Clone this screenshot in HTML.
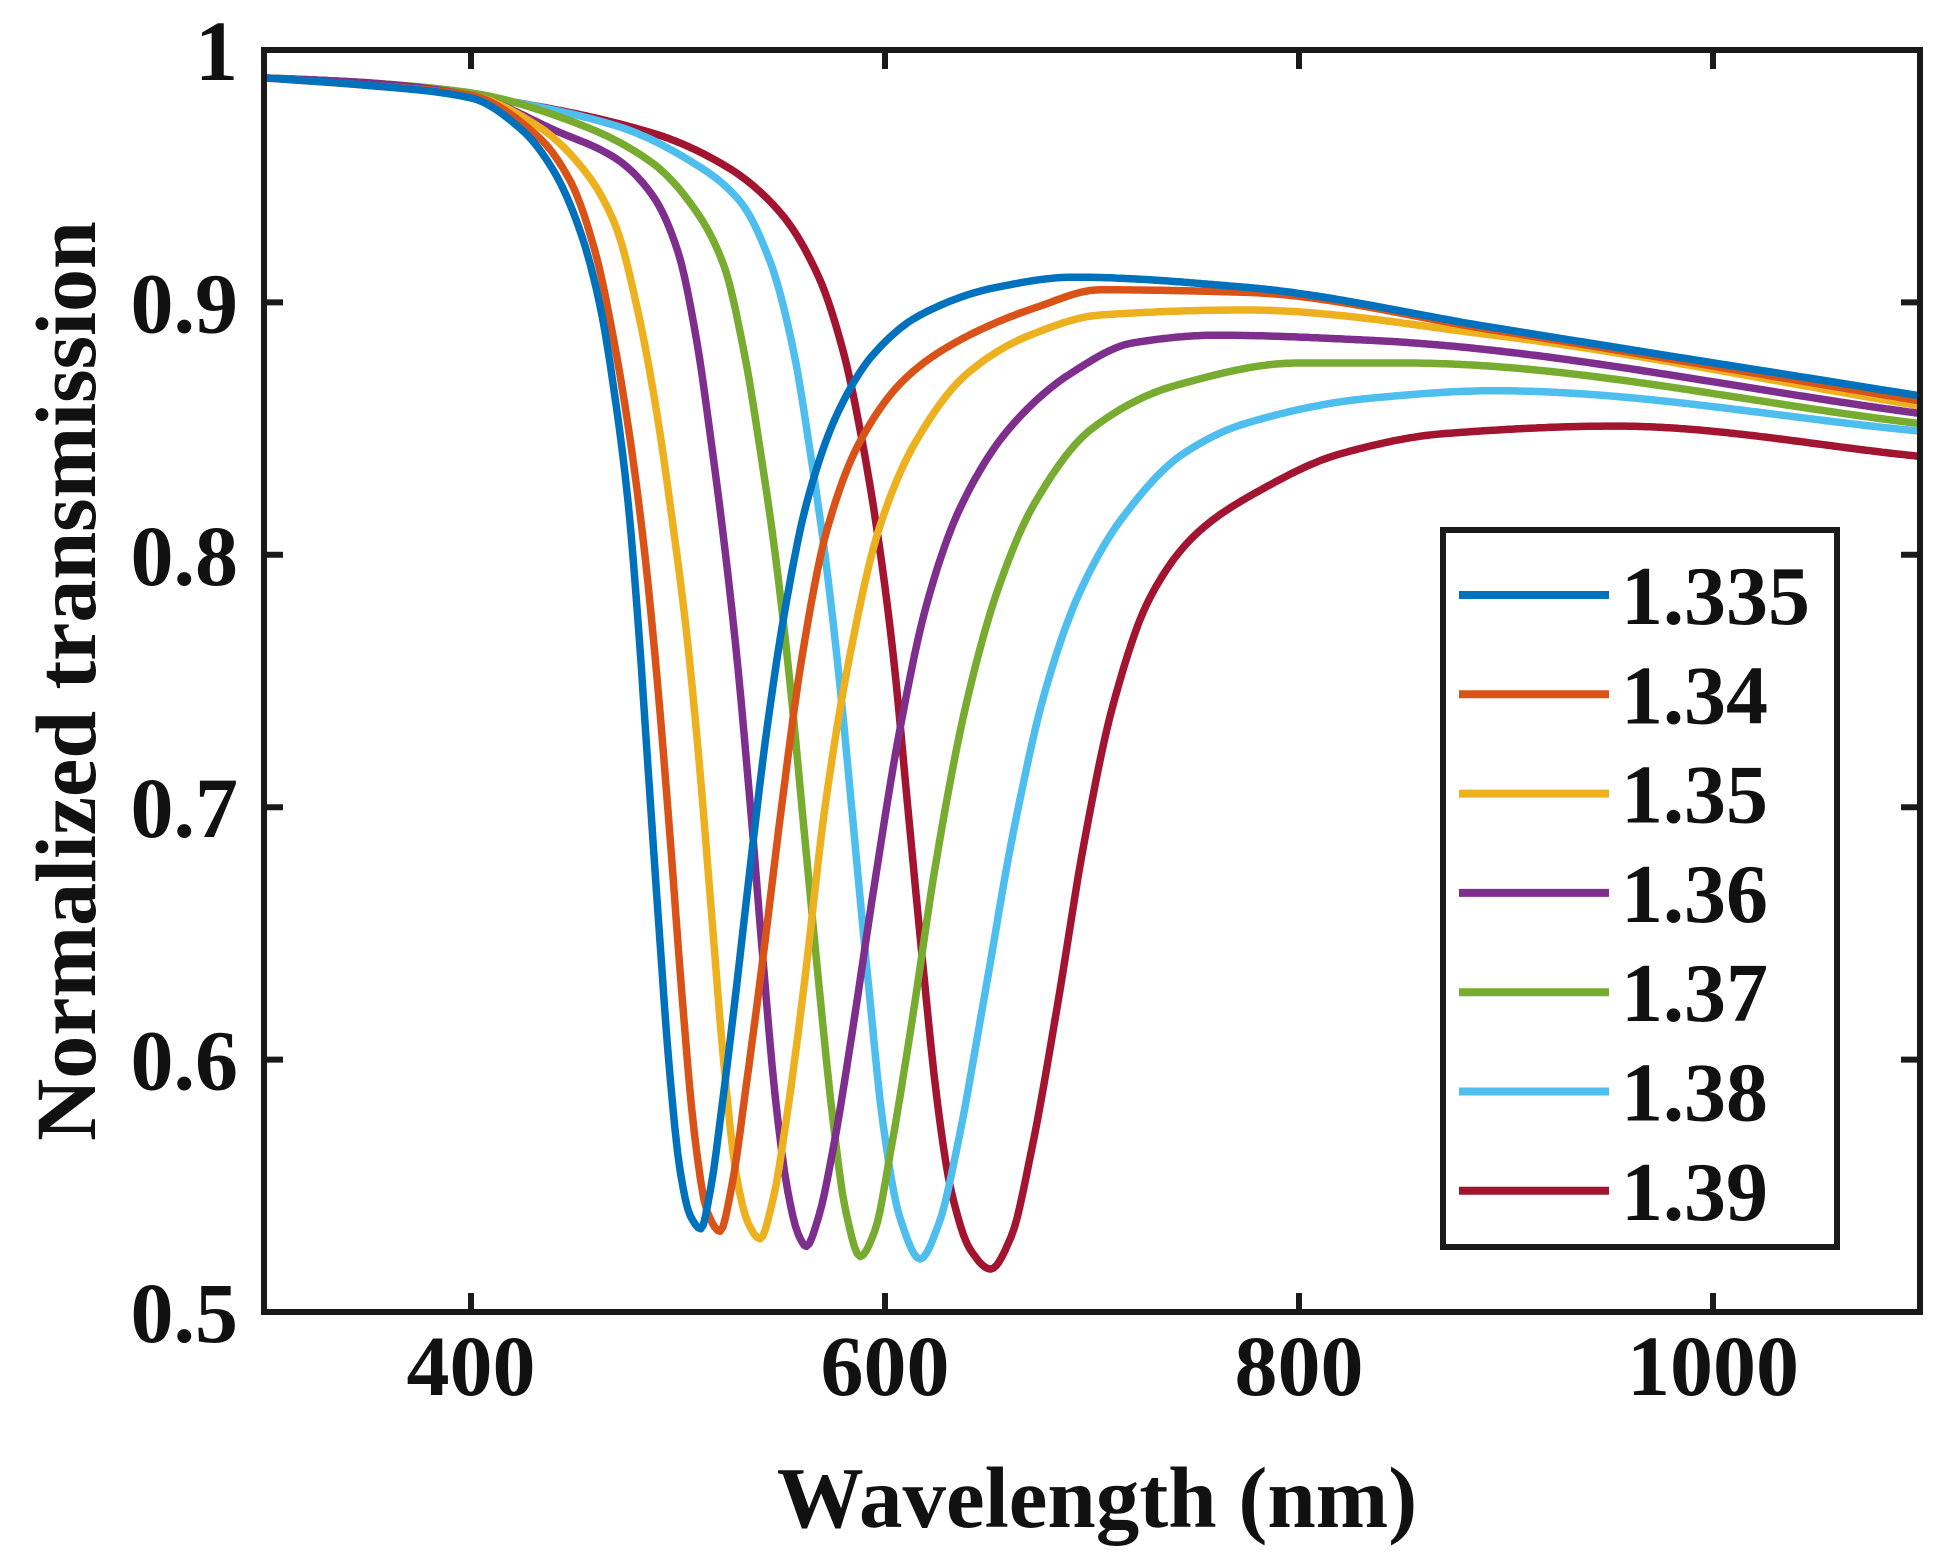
<!DOCTYPE html>
<html>
<head>
<meta charset="utf-8">
<style>
html,body{margin:0;padding:0;background:#fff;}
svg{display:block;}
text{font-family:"Liberation Serif",serif;font-weight:bold;fill:#111;}
</style>
</head>
<body>
<svg id="chart" width="1955" height="1564" viewBox="0 0 1955 1564" xmlns="http://www.w3.org/2000/svg">
  <g id="plot"></g>
  <g id="axes"></g>
  <g id="legend"></g>
</svg>
<script>
const seriesNames = ["1.335","1.34","1.35","1.36","1.37","1.38","1.39"];
const seriesColors = ["#0072BD","#D95319","#EDB120","#7E2F8E","#77AC30","#4DBEEE","#A2142F"];
const xTicks = [400,600,800,1000];
const yTicks = [0.5,0.6,0.7,0.8,0.9,1];
const yTickLabels = ["0.5","0.6","0.7","0.8","0.9","1"];

const x1335 = [300,350,400,425,440,452,462,470,476,481,486,491,496,501,506,511,516,521,527,534,542,551,562,577,595,617,654,691,774,894,1100];
const y1335 = [0.989,0.986,0.981,0.968,0.952,0.93,0.9,0.86,0.82,0.77,0.71,0.65,0.595,0.556,0.538,0.533,0.55,0.58,0.62,0.67,0.725,0.775,0.82,0.856,0.88,0.895,0.906,0.91,0.906,0.89,0.863];
const x134 = [300,350,400,432,448,460,469,477,484,490,496,502,508,514,520.3,526,533,541,550,560,572,588,610,636,673,704,774,894,1100];
const y134 = [0.989,0.986,0.982,0.966,0.948,0.92,0.885,0.845,0.8,0.75,0.69,0.625,0.57,0.54,0.532,0.55,0.59,0.64,0.7,0.76,0.81,0.845,0.87,0.885,0.898,0.905,0.904,0.889,0.861];
const x135 = [300,350,400,432,455,470,481,490,497,504,510,516,522,528,534,539.6,546,553,561,571,583,597,615,640,670,704,774,894,1100];
const y135 = [0.989,0.986,0.982,0.97,0.952,0.93,0.895,0.855,0.815,0.77,0.72,0.66,0.6,0.555,0.535,0.529,0.545,0.58,0.63,0.7,0.76,0.81,0.845,0.872,0.887,0.895,0.897,0.887,0.859];
const x136 = [300,350,400,441,470,488,500,509,516,523,529,535,541,547,553,558,562,568,575,584,595,607,620,636,660,690,720,760,834,1100];
const y136 = [0.989,0.987,0.982,0.968,0.957,0.942,0.92,0.885,0.845,0.8,0.755,0.7,0.64,0.585,0.548,0.531,0.526,0.538,0.565,0.61,0.67,0.73,0.78,0.818,0.85,0.872,0.884,0.887,0.885,0.856];
const x137 = [300,350,400,451,488,508,522,532,540,547,554,561,568,575,581,588,595,603,613,625,639,654,672,700,740,800,850,1100];
const y137 = [0.989,0.987,0.983,0.971,0.955,0.937,0.915,0.88,0.84,0.8,0.75,0.69,0.63,0.575,0.54,0.522,0.532,0.565,0.615,0.68,0.74,0.785,0.82,0.85,0.867,0.876,0.876,0.852];
const x138 = [300,350,400,470,506,530,545,556,564,571,578,585,592,599,607,617,626,636,648,662,677,694,715,744,774,834,894,1100];
const y138 = [0.989,0.987,0.982,0.97,0.956,0.94,0.915,0.88,0.84,0.8,0.75,0.69,0.63,0.575,0.538,0.521,0.535,0.57,0.625,0.69,0.745,0.785,0.815,0.84,0.852,0.862,0.865,0.849];
const x139 = [300,350,400,488,525,550,568,580,589,597,604,611,618,625,632,641,651,661,671,683,696,710,728,750,780,820,870,953,1100];
const y139 = [0.989,0.987,0.982,0.967,0.953,0.935,0.91,0.88,0.845,0.805,0.76,0.7,0.64,0.585,0.548,0.525,0.517,0.53,0.565,0.62,0.685,0.74,0.783,0.808,0.825,0.84,0.848,0.851,0.839];

const seriesX = [x1335,x134,x135,x136,x137,x138,x139];
const seriesY = [y1335,y134,y135,y136,y137,y138,y139];

const L=264,R=1920,T=50,B=1312;
const xMin=300,xMax=1100,yMin=0.5,yMax=1;
function sx(v){return L+(v-xMin)/(xMax-xMin)*(R-L);}
function sy(v){return B-(v-yMin)/(yMax-yMin)*(B-T);}
const NS="http://www.w3.org/2000/svg";
function mk(tag,parent){const e=document.createElementNS(NS,tag);parent.appendChild(e);return e;}

// monotone cubic interpolation (Fritsch-Carlson), sampled densely
function monoPath(xs,ys){
  const n=xs.length,d=[],m=new Array(n);
  for(let i=0;i<n-1;i++)d.push((ys[i+1]-ys[i])/(xs[i+1]-xs[i]));
  m[0]=d[0];m[n-1]=d[n-2];
  for(let i=1;i<n-1;i++){
    if(d[i-1]*d[i]<=0)m[i]=0;
    else{const w1=2*(xs[i+1]-xs[i])+(xs[i]-xs[i-1]),w2=(xs[i+1]-xs[i])+2*(xs[i]-xs[i-1]);m[i]=(w1+w2)/(w1/d[i-1]+w2/d[i]);}
  }
  let pts=[];
  for(let i=0;i<n-1;i++){
    const h=xs[i+1]-xs[i],steps=Math.max(4,Math.ceil(h/1.5));
    for(let k=0;k<steps;k++){
      const t=k/steps,t2=t*t,t3=t2*t;
      const y=(2*t3-3*t2+1)*ys[i]+(t3-2*t2+t)*h*m[i]+(-2*t3+3*t2)*ys[i+1]+(t3-t2)*h*m[i+1];
      pts.push(sx(xs[i]+t*h).toFixed(1)+","+sy(y).toFixed(1));
    }
  }
  pts.push(sx(xs[n-1]).toFixed(1)+","+sy(ys[n-1]).toFixed(1));
  return "M"+pts.join("L");
}

const plot=document.getElementById("plot");
const clip=mk("clipPath",plot);clip.setAttribute("id","clipr");
const cr=mk("rect",clip);cr.setAttribute("x",L);cr.setAttribute("y",T);cr.setAttribute("width",R-L);cr.setAttribute("height",B-T);
for(let s=seriesNames.length-1;s>=0;s--){
  const path=mk("path",plot);
  
  
  path.setAttribute("d",monoPath(seriesX[s],seriesY[s]));
  path.setAttribute("fill","none");
  path.setAttribute("stroke",seriesColors[s]);
  path.setAttribute("stroke-width","7.5");
  path.setAttribute("stroke-linejoin","round");
  path.setAttribute("clip-path","url(#clipr)");
}

const axes=document.getElementById("axes");
const frame=mk("rect",axes);


frame.setAttribute("x",L);frame.setAttribute("y",T);frame.setAttribute("width",R-L);frame.setAttribute("height",B-T);
frame.setAttribute("fill","none");frame.setAttribute("stroke","#1a1a1a");frame.setAttribute("stroke-width","6");
const tl=19;
xTicks.forEach(v=>{
  const x=sx(v);
  [[B,B-tl],[T,T+tl]].forEach(([a,b])=>{
    const t=mk("line",axes);
    
    
    t.setAttribute("x1",x);t.setAttribute("x2",x);t.setAttribute("y1",a);t.setAttribute("y2",b);
    t.setAttribute("stroke","#1a1a1a");t.setAttribute("stroke-width","6");
  });
  const lab=mk("text",axes);
  
  
  lab.setAttribute("x",x);lab.setAttribute("y",1395);lab.setAttribute("text-anchor","middle");lab.setAttribute("font-size","86");
  lab.textContent=String(v);
});
yTicks.forEach((v,i)=>{
  const y=sy(v);
  [[L,L+tl],[R,R-tl]].forEach(([a,b])=>{
    const t=mk("line",axes);
    
    
    t.setAttribute("y1",y);t.setAttribute("y2",y);t.setAttribute("x1",a);t.setAttribute("x2",b);
    t.setAttribute("stroke","#1a1a1a");t.setAttribute("stroke-width","6");
  });
  const lab=mk("text",axes);
  
  
  lab.setAttribute("x",238);lab.setAttribute("y",y+30);lab.setAttribute("text-anchor","end");lab.setAttribute("font-size","86");
  lab.textContent=yTickLabels[i];
});
const xt=mk("text",axes);


xt.setAttribute("x",1097);xt.setAttribute("y",1527);xt.setAttribute("text-anchor","middle");xt.setAttribute("font-size","87");
xt.textContent="Wavelength (nm)";
const yt=mk("text",axes);


yt.setAttribute("transform","translate(95,681) rotate(-90)");yt.setAttribute("text-anchor","middle");yt.setAttribute("font-size","86");
yt.textContent="Normalized transmission";

const legend=document.getElementById("legend");
const lb=mk("rect",legend);


lb.setAttribute("x",1443);lb.setAttribute("y",530);lb.setAttribute("width",394);lb.setAttribute("height",717);
lb.setAttribute("fill","#fff");lb.setAttribute("stroke","#1a1a1a");lb.setAttribute("stroke-width","6");
seriesNames.forEach((n,i)=>{
  const y=595+i*99.3;
  const g=mk("g",legend);
  
  
  const ln=mk("line",g);
  ln.setAttribute("x1",1459);ln.setAttribute("x2",1609);ln.setAttribute("y1",y);ln.setAttribute("y2",y);
  ln.setAttribute("stroke",seriesColors[i]);ln.setAttribute("stroke-width","8");
  const tx=mk("text",g);
  tx.setAttribute("x",1621);tx.setAttribute("y",y+29);tx.setAttribute("font-size","84");
  tx.textContent=n;
});
</script>
</body>
</html>
